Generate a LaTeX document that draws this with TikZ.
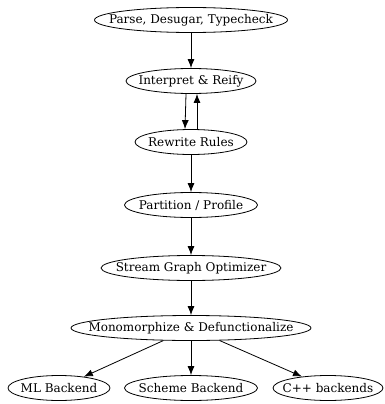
\documentclass[tikz,border=0pt]{standalone}
\usepackage{fontspec}
\setmainfont{DejaVu Serif}
\usetikzlibrary{shapes.geometric,arrows.meta}

\begin{document}
\begin{tikzpicture}[x=1pt, y=-1pt, font=\fontsize{12}{14}\selectfont, line width=0.8pt,
		stage/.style={ellipse, draw, inner sep=0pt, minimum height=25pt, minimum width=#1,
			execute at begin node={\hbox to 0pt\bgroup\hss}, execute at end node={\hss\egroup}},
		flow/.style={-{Latex[length=9pt,width=7pt]}}]
			\useasboundingbox (0,0) rectangle (384,404);

			\node (parse)[stage=193pt] at (191,20) {Parse, Desugar, Typecheck};
			\node (interp)[stage=130pt] at (191,81) {Interpret \& Reify};
			\node (rewrite)[stage=112pt] at (191,142) {Rewrite Rules};
			\node (part)[stage=133pt] at (191,205) {Partition / Profile};
			\node (stream)[stage=180pt] at (191,268) {Stream Graph Optimizer};
			\node (mono)[stage=240pt] at (191,328) {Monomorphize \& Defunctionalize};
			\node (ml)[stage=102pt] at (59,388) {ML Backend};
			\node (scheme)[stage=133pt] at (191,388) {Scheme Backend};
			\node (cpp)[stage=110pt] at (328,388) {C++ backends};

			\draw [flow](parse)--(interp);
			\draw [flow]([xshift=-5pt]interp.south)--([xshift=-6pt]rewrite.north);
			\draw [flow]([xshift=6pt]rewrite.north)--([xshift=6pt]interp.south);
			\draw [flow](rewrite)--(part);
			\draw [flow](part)--(stream);
			\draw [flow](stream)--(mono);

			\draw [flow](mono)--(ml);
			\draw [flow](mono)--(scheme);
			\draw [flow](mono)--(cpp);
		\end{tikzpicture}
\end{document}
